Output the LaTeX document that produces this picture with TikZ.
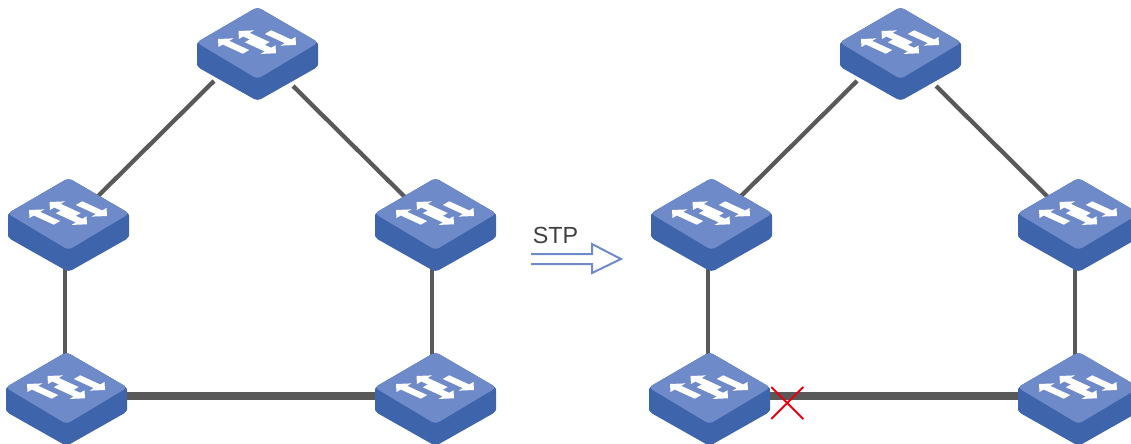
\documentclass[tikz,border=0pt]{standalone}
\usepackage{fontspec}
\setmainfont{Liberation Sans}
\usetikzlibrary{backgrounds,shapes.misc}
\definecolor{swtop}{HTML}{6F8AC8}
\definecolor{swside}{HTML}{3E64AB}
\definecolor{linkgray}{HTML}{595959}
\definecolor{crossred}{HTML}{E60012}
% Point on the top face: #1 along the arrow, #2 across it
\newcommand{\facept}[2]{({\tipx+\dir*(#1)+(#2)},{\tipy+0.46*\dir*(#1)-0.574*(#2)})}
\begin{document}
\begin{tikzpicture}[
    x=0.75pt, y=-0.75pt,
    switch/.style = {shape=rectangle, minimum width=90.75pt, minimum height=71.25pt, inner sep=0pt, outer sep=0pt,
        path picture={
            \fill[swside, rounded corners=3pt] (0,-47) -- (-61,-11.5) -- (-61,12.5) -- (0,47) -- (61,12.5) -- (61,-11.5) -- cycle;
            \fill[swtop, rounded corners=3pt] (0,-47) -- (-61,-11.5) -- (0,25) -- (61,-11.5) -- cycle;
            % Four arrows on the top face
            \foreach \tipx/\tipy/\dir in {-19/-23/1, 38.5/-9/-1, -39.5/-15/1, 18.5/-0.7/-1} {
                \fill[white] \facept{0}{0} -- \facept{8}{7.5} -- \facept{8}{3.2} -- \facept{28}{3.2}
                    -- \facept{28}{-3.2} -- \facept{8}{-3.2} -- \facept{8}{-7.5} -- cycle;
            }
        }},
    link/.style = {draw=linkgray, line width=3.2pt},
    trunk/.style = {draw=linkgray, line width=5.5pt},
    ]
    \useasboundingbox (0,0) rectangle (1131,443);

    \begin{scope}
        \node[switch] (sw top)   at (257.5, 54)  {};
        \node[switch] (sw left)  at (68.5,  225) {};
        \node[switch] (sw right) at (435.5, 225) {};
        \node[switch] (sw bl)    at (66.5,  399) {};
        \node[switch] (sw br)    at (435.5, 399) {};

        % Links sit behind the switches
        \begin{pgfonlayer}{background}
            \path[link] ([shift={(-43.5,27)}]sw top.center) -- ([shift={(14.5,-14)}]sw left.center);
            \path[link] ([shift={(35.5,32)}]sw top.center)  -- ([shift={(-15.5,-13)}]sw right.center);
            \path[link] ([xshift=-3.5*0.75pt]sw left.center)  -- ([xshift=-1.5*0.75pt]sw bl.center);
            \path[link] ([xshift=-3.5*0.75pt]sw right.center) -- ([xshift=-3.5*0.75pt]sw br.center);
            \path[trunk] ([yshift=3*0.75pt]sw bl.center) -- ([yshift=3*0.75pt]sw br.center);
        \end{pgfonlayer}
    \end{scope}

    % Arrow between the two rings
    \node[anchor=south west, inner sep=0pt, text=black!75, font=\fontsize{17.5pt}{17.5pt}\selectfont] (stp) at (532.5, 243.5) {STP};
    \draw[swtop, line width=1.5pt, line join=miter]
        (531,254) -- (592,254) -- (592,244) -- (621,259) -- (592,273) -- (592,264) -- (531,264);

    \begin{scope}[xshift=482.25pt]
        \node[switch] (stp top)   at (257.5, 54)  {};
        \node[switch] (stp left)  at (68.5,  225) {};
        \node[switch] (stp right) at (435.5, 225) {};
        \node[switch] (stp bl)    at (66.5,  399) {};
        \node[switch] (stp br)    at (435.5, 399) {};

        % Links sit behind the switches
        \begin{pgfonlayer}{background}
            \path[link] ([shift={(-43.5,27)}]stp top.center) -- ([shift={(14.5,-14)}]stp left.center);
            \path[link] ([shift={(35.5,32)}]stp top.center)  -- ([shift={(-15.5,-13)}]stp right.center);
            \path[link] ([xshift=-3.5*0.75pt]stp left.center)  -- ([xshift=-1.5*0.75pt]stp bl.center);
            \path[link] ([xshift=-3.5*0.75pt]stp right.center) -- ([xshift=-3.5*0.75pt]stp br.center);
            \path[trunk] ([yshift=3*0.75pt]stp bl.center) -- ([yshift=3*0.75pt]stp br.center);
        \end{pgfonlayer}

        % Blocked port
        \node[cross out, draw=crossred, line width=1.5pt, inner sep=0pt, outer sep=0pt, minimum size=24pt] (blocked) at (144.25, 403) {};
    \end{scope}
\end{tikzpicture}
\end{document}
